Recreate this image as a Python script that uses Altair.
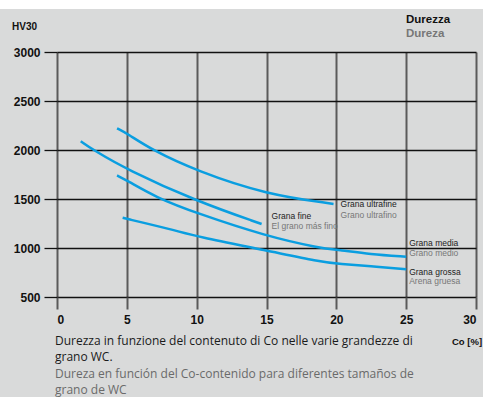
import altair as alt
import pandas as pd

# ---- data ----
co_ultra = [4.3, 5, 6.8, 10, 15, 19.8]
hv_ultra = [2221, 2170, 2000, 1786, 1545, 1450]

co_fine = [1.7, 2.6, 5, 10, 14.65]
hv_fine = [2090, 2000, 1801, 1477, 1245]

co_medium = [4.3, 5, 7.1, 10, 15, 18.8, 20.3, 22.4, 25]
hv_medium = [1740, 1690, 1515, 1355, 1120, 1000, 978, 936, 911]

co_coarse = [4.7, 8.3, 10, 15, 18.8, 20.3, 22.4, 25]
hv_coarse = [1308, 1187, 1116, 975, 860, 836, 815, 784]

x_ticks = [0, 5, 10, 15, 20, 25, 30]
y_ticks = [500, 1000, 1500, 2000, 2500, 3000]

label_it = ["Grana ultrafine", "Grana fine", "Grana media", "Grana grossa"]
label_es = ["Grano ultrafino", "El grano más fino", "Grano medio", "Arena gruesa"]
label_co = [19.8, 14.65, 25, 25]
label_hv = [1450, 1245, 911, 784]

caption_it = ["Durezza in funzione del contenuto di Co nelle varie grandezze di", "grano WC."]
caption_es = ["Dureza en función del Co-contenido para diferentes tamaños de", "grano de WC"]

rows = []
for name, xs_, ys_ in [("ultra", co_ultra, hv_ultra), ("fine", co_fine, hv_fine),
                       ("medium", co_medium, hv_medium), ("coarse", co_coarse, hv_coarse)]:
    for x, y in zip(xs_, ys_):
        rows.append({"series": name, "co": x, "hv": y})
df = pd.DataFrame(rows)

lab = pd.DataFrame({"it": label_it, "es": label_es, "co": label_co, "hv": label_hv,
                    "dx": [7, 10, 3, 3], "dy_it": [0, -8, -14, 3], "dy_es": [11, 2, -4, 12]})

W, H = 419, 245
BLUE = "#0a9ee0"

xs = alt.Scale(domain=[0, 30], nice=False)
ys = alt.Scale(domain=[500, 3000], nice=False)

x_axis = alt.Axis(values=x_ticks, title=None, domain=False, grid=True, gridColor="#5a5a5a",
                  gridWidth=2, gridOpacity=1, tickColor="#5a5a5a", tickWidth=2, tickSize=12,
                  labelFont="Liberation Sans", labelFontWeight="bold", labelFontSize=12,
                  labelColor="#111", labelPadding=5, format="d")
y_axis = alt.Axis(values=y_ticks, title=None, domain=False, grid=True, gridColor="#111",
                  gridWidth=1.3, gridOpacity=1, tickColor="#111", tickWidth=1.3, tickSize=13,
                  labelFont="Liberation Sans", labelFontWeight="bold", labelFontSize=12,
                  labelColor="#111", labelPadding=4, format="d")

# white strip at top of the picture
strip = alt.Chart(pd.DataFrame({"a": [0]})).mark_rect(color="white").encode(
    x=alt.value(-57), x2=alt.value(W + 7), y=alt.value(-52), y2=alt.value(-43))

lines = alt.Chart(df).mark_line(color=BLUE, strokeWidth=2.5, interpolate="basis").encode(
    x=alt.X("co:Q", scale=xs, axis=x_axis),
    y=alt.Y("hv:Q", scale=ys, axis=y_axis),
    detail="series:N")


def lab_layer(field, dxv, dyv, color):
    layers = []
    for i in range(len(lab)):
        layers.append(alt.Chart(lab.iloc[[i]]).mark_text(
            align="left", baseline="middle", font="Liberation Sans", fontSize=8.5,
            color=color, dx=int(lab[dxv][i]), dy=int(lab[dyv][i])).encode(
            x=alt.X("co:Q", scale=xs), y=alt.Y("hv:Q", scale=ys), text=f"{field}:N"))
    return layers


labels = lab_layer("it", "dx", "dy_it", "#222") + lab_layer("es", "dx", "dy_es", "#777")


def note(text, x, y, size, weight="normal", color="#111", font="Liberation Sans", align="left"):
    return alt.Chart(pd.DataFrame({"t": [text]})).mark_text(
        align=align, baseline="middle", fontSize=size, fontWeight=weight, color=color, font=font
    ).encode(x=alt.value(x), y=alt.value(y), text="t:N")


notes = [
    note("HV30", -45, -25, 10, "bold"),
    note("Durezza", 349, -32, 11.5, "bold", "#111"),
    note("Dureza", 349, -18, 11.5, "bold", "#777"),
    note("Co [%]", 395, 290, 9.5, "bold"),
    note(caption_it[0], -2, 289, 12, color="#1a1a1a", font="Open Sans"),
    note(caption_it[1], -2, 305, 12, color="#1a1a1a", font="Open Sans"),
    note(caption_es[0], -2, 322, 12, color="#6a6a6a", font="Open Sans"),
    note(caption_es[1], -2, 338, 12, color="#6a6a6a", font="Open Sans"),
]

chart = alt.layer(strip, lines, *labels, *notes).properties(
    width=W, height=H,
    autosize=alt.AutoSizeParams(type="none"),
    padding={"left": 57, "top": 52, "right": 7, "bottom": 100},
    background="#d9dada",
).configure_view(stroke=None)

chart.save("out.html", embed_options={"renderer": "svg", "actions": False})
